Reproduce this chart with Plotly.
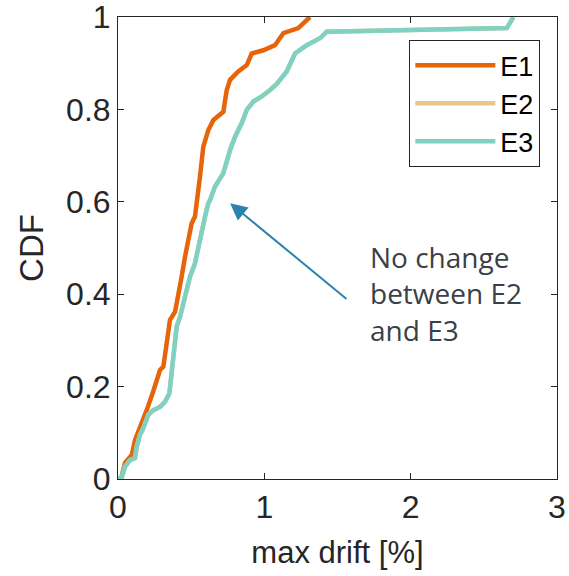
import plotly.graph_objects as go

e1_x = [0.0, 0.02, 0.048, 0.094, 0.116, 0.15, 0.173, 0.196, 0.24, 0.287, 0.31, 0.333, 0.355, 0.39,
        0.412, 0.435, 0.458, 0.48, 0.503, 0.526, 0.542, 0.56, 0.583, 0.617, 0.652, 0.72, 0.743,
        0.766, 0.822, 0.88, 0.914, 0.993, 1.073, 1.13, 1.232, 1.30, 1.312]
e1_y = [0.0, 0.0, 0.035, 0.052, 0.084, 0.11, 0.128, 0.149, 0.189, 0.236, 0.243, 0.30, 0.344, 0.362,
        0.395, 0.438, 0.481, 0.517, 0.553, 0.568, 0.618, 0.654, 0.719, 0.755, 0.777, 0.795, 0.842,
        0.864, 0.882, 0.896, 0.921, 0.928, 0.939, 0.965, 0.976, 0.994, 1.0]

e3_x = [0.0, 0.025, 0.048, 0.082, 0.116, 0.128, 0.15, 0.173, 0.207, 0.241, 0.287, 0.321, 0.351,
        0.367, 0.39, 0.401, 0.424, 0.446, 0.469, 0.492, 0.526, 0.549, 0.572, 0.595, 0.617, 0.629,
        0.663, 0.72, 0.766, 0.80, 0.845, 0.88, 0.925, 0.982, 1.039, 1.085, 1.153, 1.198, 1.21,
        1.29, 1.38, 1.426, 2.657, 2.702]
e3_y = [0.0, 0.003, 0.027, 0.041, 0.045, 0.07, 0.095, 0.11, 0.139, 0.149, 0.156, 0.167, 0.185,
        0.229, 0.286, 0.33, 0.351, 0.38, 0.416, 0.438, 0.467, 0.503, 0.539, 0.568, 0.597, 0.604,
        0.633, 0.662, 0.712, 0.741, 0.77, 0.799, 0.817, 0.828, 0.842, 0.855, 0.882, 0.914, 0.921,
        0.939, 0.954, 0.968, 0.976, 1.0]

# E2 coincides with E3 (hidden underneath)
e2_x = list(e3_x)
e2_y = list(e3_y)

x_ticks = [0, 1, 2, 3]
y_ticks = [0, 0.2, 0.4, 0.6, 0.8, 1]
y_tick_text = ["0", "0.2", "0.4", "0.6", "0.8", "1"]

series = [("E1", e1_x, e1_y, "#E6640A"),
          ("E2", e2_x, e2_y, "#E6C887"),
          ("E3", e3_x, e3_y, "#7FD2C3")]

fig = go.Figure()
for name, xs, ys, col in series:
    fig.add_trace(go.Scatter(x=xs, y=ys, mode="lines", name=name,
                             line=dict(color=col, width=4.5)))

axis_col = "#262626"
font_main = "Liberation Sans, Arial, sans-serif"

fig.update_layout(
    width=569, height=576,
    margin=dict(l=118, r=12, t=17, b=97, autoexpand=False),
    paper_bgcolor="white", plot_bgcolor="white",
    font=dict(family=font_main, size=31, color=axis_col),
    showlegend=True,
    legend=dict(x=0.962, y=0.95, xanchor="right", yanchor="top",
                bgcolor="white", bordercolor=axis_col, borderwidth=1,
                font=dict(family=font_main, size=27, color="#000000"),
                itemwidth=80, tracegroupgap=0),
)
fig.update_xaxes(range=[0, 3], tickvals=x_ticks, ticktext=[str(v) for v in x_ticks],
                 ticks="inside", ticklen=6, tickcolor=axis_col, tickwidth=1,
                 showline=True, linecolor=axis_col, linewidth=1, mirror="ticks",
                 showgrid=False, zeroline=False, ticklabeloverflow="allow", automargin=False,
                 tickfont=dict(size=32, color=axis_col),
                 title=dict(text="max drift [%]", font=dict(size=31, color=axis_col), standoff=16))
fig.update_yaxes(range=[0, 1], tickvals=y_ticks, ticktext=y_tick_text,
                 ticks="inside", ticklen=6, tickcolor=axis_col, tickwidth=1,
                 showline=True, linecolor=axis_col, linewidth=1, mirror="ticks",
                 showgrid=False, zeroline=False, ticklabeloverflow="allow", automargin=False,
                 tickfont=dict(size=32, color=axis_col),
                 title=dict(text="CDF", font=dict(size=33, color=axis_col), standoff=12))

arrow_col = "#2B83AE"
fig.add_annotation(x=0.766, y=0.597, ax=1.572, ay=0.387, xref="x", yref="y",
                   axref="x", ayref="y", text="", showarrow=True,
                   arrowhead=2, arrowsize=1.7, arrowwidth=2, arrowcolor=arrow_col)
fig.add_annotation(x=1.71, y=0.525, xref="x", yref="y", xanchor="left", yanchor="top",
                   text="No change<br>between E2<br>and E3", showarrow=False, align="left",
                   font=dict(family="Open Sans, sans-serif", size=28, color="#3B3F48"))

fig.write_html("out.html")
